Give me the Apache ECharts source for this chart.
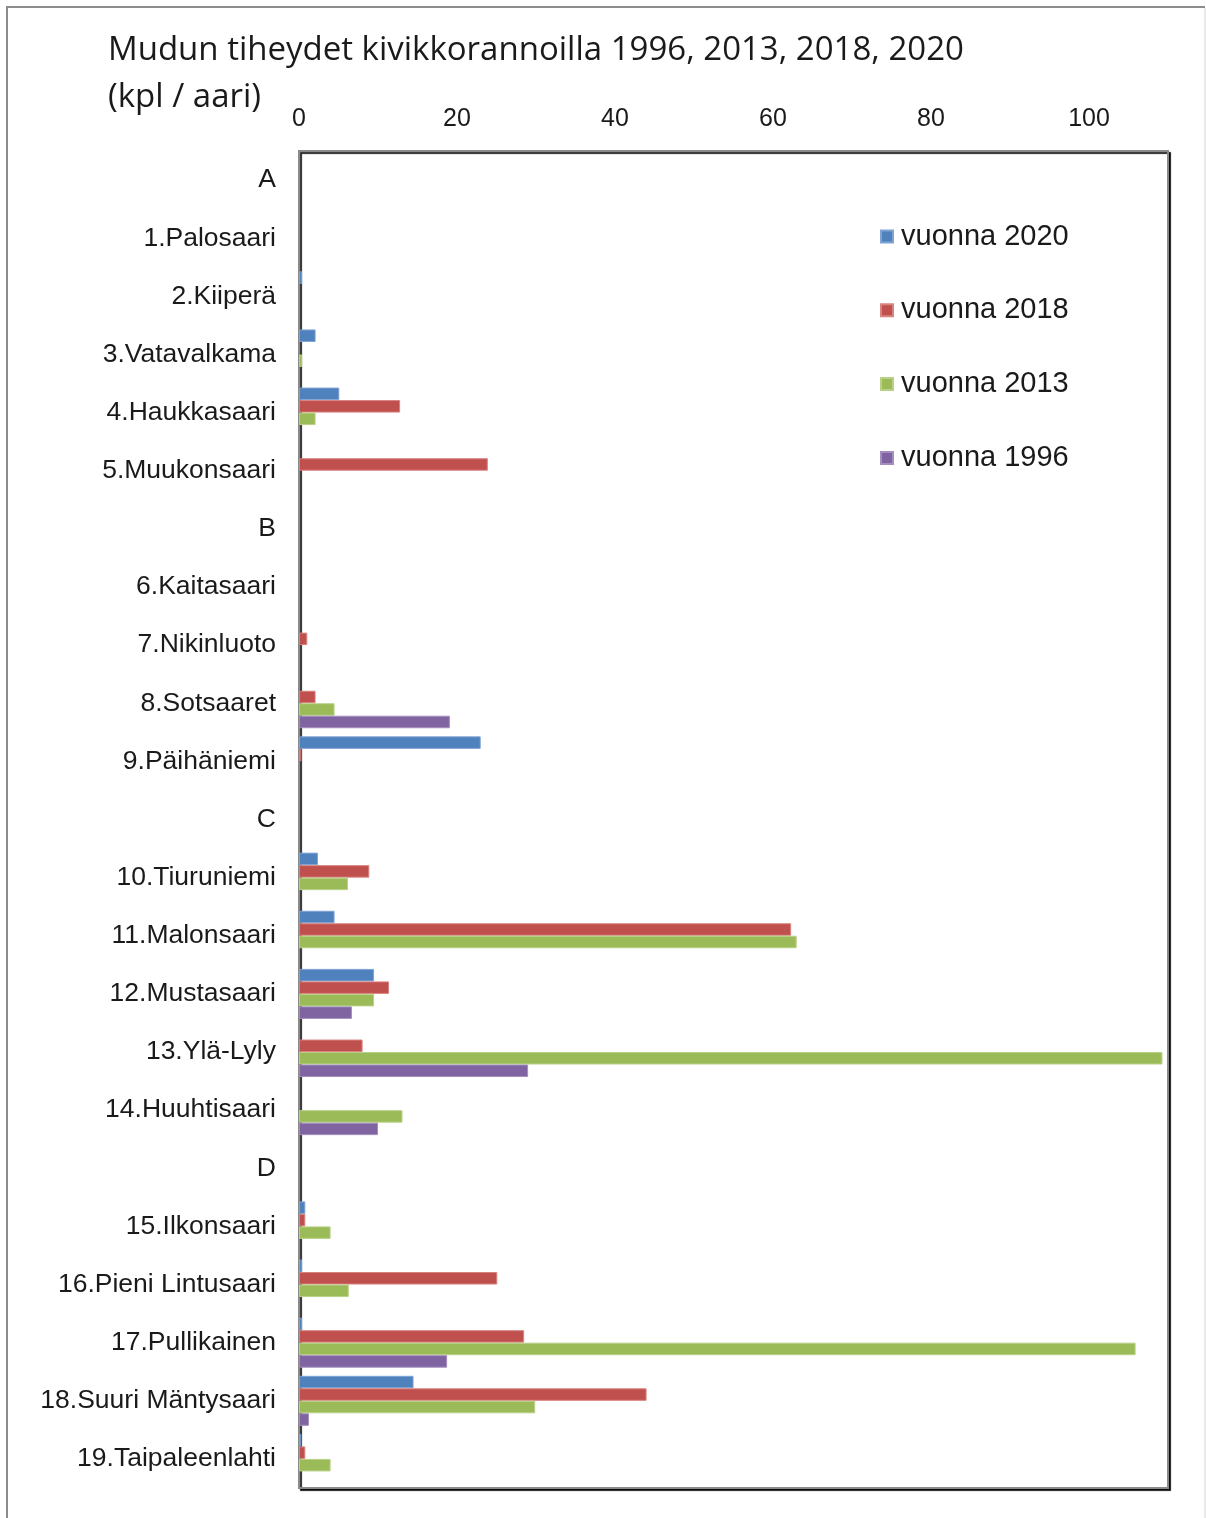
<!DOCTYPE html>
<html>
<head>
<meta charset="utf-8">
<title>Mudun tiheydet kivikkorannoilla</title>
<script src="https://cdn.jsdelivr.net/npm/echarts@6/dist/echarts.min.js"></script>
<style>
  html, body { margin: 0; padding: 0; background: #ffffff; }
  #chart { width: 1206px; height: 1518px; }
</style>
</head>
<body>
<div id="chart"></div>
<script>
// Sites grouped by area (A–D); group headers carry no bars.
const categories = [
  'A', '1.Palosaari', '2.Kiiperä', '3.Vatavalkama', '4.Haukkasaari', '5.Muukonsaari',
  'B', '6.Kaitasaari', '7.Nikinluoto', '8.Sotsaaret', '9.Päihäniemi',
  'C', '10.Tiuruniemi', '11.Malonsaari', '12.Mustasaari', '13.Ylä-Lyly', '14.Huuhtisaari',
  'D', '15.Ilkonsaari', '16.Pieni Lintusaari', '17.Pullikainen', '18.Suuri Mäntysaari', '19.Taipaleenlahti'
];

// Densities (kpl / aari); null = no observation drawn
const v2020 = [null, null, 0.4, 2.1, 5.1, null, null, null, null, null, 23.0,
               null, 2.4, 4.5, 9.5, null, null, null, 0.8, 0.4, 0.4, 14.5, 0.3];
const v2018 = [null, null, null, null, 12.8, 23.9, null, null, 1.05, 2.1, 0.3,
               null, 8.9, 62.3, 11.4, 8.05, null, null, 0.8, 25.1, 28.5, 44.0, 0.8];
const v2013 = [null, null, null, 0.4, 2.1, null, null, null, null, 4.5, null,
               null, 6.2, 63.0, 9.5, 109.3, 13.1, null, 4.0, 6.3, 105.9, 29.9, 4.0];
const v1996 = [null, null, null, null, null, null, null, null, null, 19.1, null,
               null, null, null, 6.7, 29.0, 10.0, null, null, null, 18.75, 1.26, null];

const seriesNames = ['vuonna 2020', 'vuonna 2018', 'vuonna 2013', 'vuonna 1996'];
const seriesColors = ['#4F81BD', '#C0504D', '#9BBB59', '#8064A2'];
const seriesBorders = ['#7FA3D3', '#D98381', '#B9D186', '#A38EBF'];
const seriesValues = [v2020, v2018, v2013, v1996];

const xTicks = [0, 20, 40, 60, 80, 100];

const chart = echarts.init(document.getElementById('chart'), null, { renderer: 'canvas' });

chart.setOption({
  backgroundColor: '#ffffff',
  animation: false,
  title: {
    text: 'Mudun tiheydet kivikkorannoilla 1996, 2013, 2018, 2020\n(kpl / aari)',
    left: 103,
    top: 22,
    textStyle: {
      fontFamily: 'Open Sans',
      fontWeight: 'normal',
      fontSize: 33,
      lineHeight: 47,
      color: '#1a1a1a'
    }
  },
  legend: {
    orient: 'vertical',
    left: 880,
    top: 222,
    padding: 0,
    itemWidth: 12,
    itemHeight: 12,
    itemGap: 44.8,
    icon: 'rect',
    data: seriesNames,
    textStyle: {
      fontFamily: 'Liberation Sans',
      fontSize: 29,
      lineHeight: 29,
      color: '#1a1a1a',
      padding: [0, 0, 0, 3]
    }
  },
  grid: {
    left: 299,
    top: 151,
    right: 38,
    bottom: 30,
    show: true,
    backgroundColor: '#ffffff',
    borderColor: '#8a8a8a',
    borderWidth: 2,
    shadowColor: 'rgba(0,0,0,0.85)',
    shadowBlur: 1,
    shadowOffsetX: 2,
    shadowOffsetY: 2
  },
  xAxis: {
    type: 'value',
    position: 'top',
    min: 0,
    max: 110,
    interval: 20,
    splitLine: { show: false },
    axisLine: { show: false },
    axisTick: { show: false },
    axisLabel: {
      margin: 19,
      fontFamily: 'Liberation Sans',
      fontSize: 25,
      color: '#1a1a1a',
      formatter: function (v) { return xTicks.indexOf(v) >= 0 ? String(v) : ''; }
    }
  },
  yAxis: {
    type: 'category',
    inverse: true,
    data: categories,
    axisLine: { show: true, lineStyle: { color: '#8a8a8a', width: 2 } },
    axisTick: { show: false },
    splitLine: { show: false },
    axisLabel: {
      margin: 23,
      fontFamily: 'Liberation Sans',
      fontSize: 26.5,
      color: '#1a1a1a'
    }
  },
  graphic: [
    {
      type: 'polyline',
      shape: { points: [[7, 1518], [7, 7], [1205, 7]] },
      style: { stroke: '#8c8c8c', lineWidth: 2, fill: null },
      silent: true
    },
    {
      type: 'line',
      shape: { x1: 1205, y1: 8, x2: 1205, y2: 1518 },
      style: { stroke: '#d6d6d6', lineWidth: 1 },
      silent: true
    }
  ],
  series: seriesNames.map(function (name, i) {
    return {
      name: name,
      type: 'bar',
      data: seriesValues[i],
      barGap: '0%',
      barCategoryGap: '14%',
      itemStyle: {
        color: seriesColors[i],
        borderColor: seriesBorders[i],
        borderWidth: 1
      }
    };
  })
});
</script>
</body>
</html>
